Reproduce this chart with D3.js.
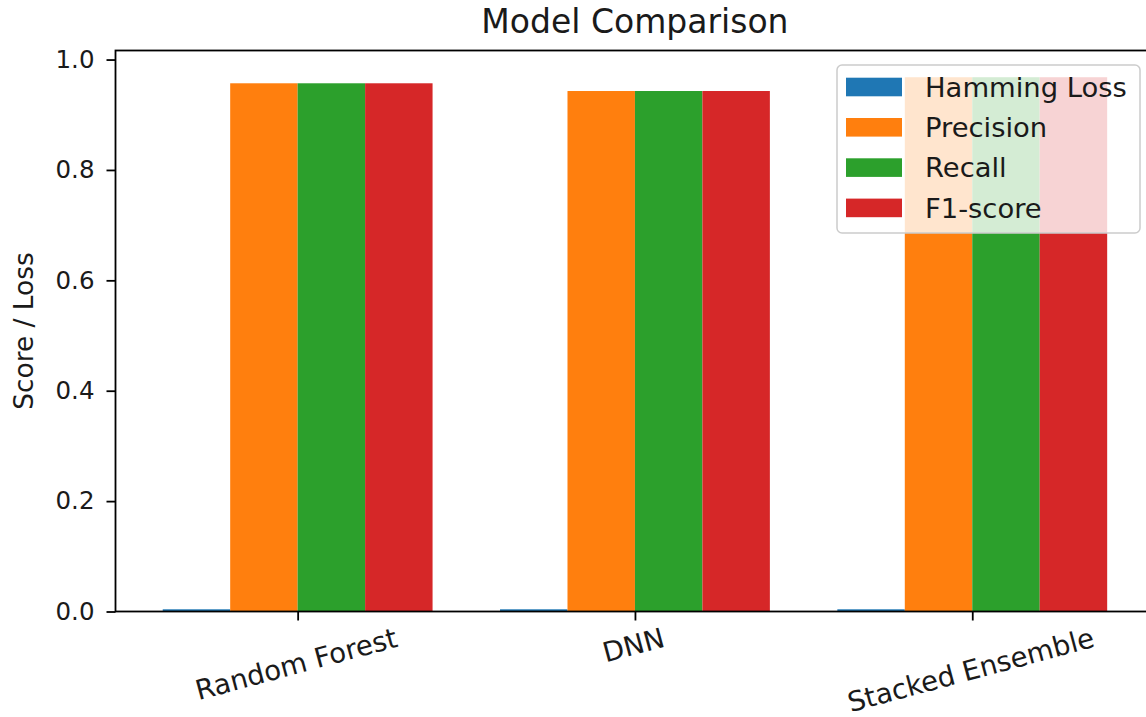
<!DOCTYPE html>
<html><head><meta charset="utf-8">
<script src="https://cdn.jsdelivr.net/npm/d3@7"></script>
<style>body{margin:0;background:#fff}svg{display:block}text{font-family:"DejaVu Sans",sans-serif;fill:#1a1a1a}</style>
</head><body><svg id="c" width="1146" height="717"></svg>
<script>
const categories = ["Random Forest", "DNN", "Stacked Ensemble"];
const seriesNames = ["Hamming Loss", "Precision", "Recall", "F1-score"];
const hammingLoss = [0.004, 0.004, 0.004];
const precision = [0.957, 0.943, 0.968];
const recall = [0.957, 0.943, 0.968];
const f1score = [0.957, 0.943, 0.968];
const yTicks = [0.0, 0.2, 0.4, 0.6, 0.8, 1.0];
const colors = ["#1f77b4", "#ff7f0e", "#2ca02c", "#d62728"];
const series = [hammingLoss, precision, recall, f1score];

const svg = d3.select("#c");
const L = 115.5, R = 1154.4, T = 50.5, B = 611.5;
const barW = 0.2;
const x = d3.scaleLinear().domain([-0.54, 2.54]).range([L, R]);
const yMax = d3.max(series.flat()) * 1.05;
const y = d3.scaleLinear().domain([0, yMax]).range([B, T]);

// bars
series.forEach((vals, j) => {
  svg.append("g").selectAll("rect").data(vals).join("rect")
    .attr("x", (d, i) => x(i + (j - 1.5) * barW - barW / 2))
    .attr("width", (d, i) => x(barW) - x(0))
    .attr("y", d => y(d))
    .attr("height", d => y(0) - y(d))
    .attr("fill", colors[j]);
});

// spines
const sp = svg.append("g").attr("stroke", "#000").attr("stroke-width", 1.8).attr("fill", "none");
sp.append("rect").attr("x", L).attr("y", T).attr("width", R - L).attr("height", B - T);

// y axis
const ya = svg.append("g").attr("transform", `translate(${L},0)`)
  .call(d3.axisLeft(y).tickValues(yTicks).tickFormat(d3.format(".1f")).tickSize(9).tickPadding(12).tickSizeOuter(0));
ya.select(".domain").remove();
ya.selectAll(".tick line").attr("stroke", "#000").attr("stroke-width", 1.8);
ya.selectAll(".tick text").style("font-family", "DejaVu Sans").style("font-size", "24.5px").attr("fill", "#1a1a1a");

// x axis
const xa = svg.append("g").attr("transform", `translate(0,${B})`)
  .call(d3.axisBottom(x).tickValues([0, 1, 2]).tickFormat(i => categories[i]).tickSize(9).tickSizeOuter(0));
xa.select(".domain").remove();
xa.selectAll(".tick line").attr("stroke", "#000").attr("stroke-width", 1.8);
const ang = 15 * Math.PI / 180;
const xfs = 27.6;
xa.selectAll(".tick text").each(function () {
  const t = d3.select(this);
  t.style("font-family", "DejaVu Sans").style("font-size", xfs + "px").attr("fill", "#1a1a1a")
    .attr("text-anchor", "middle").attr("dy", null).attr("y", 0);
  const w = this.getComputedTextLength();
  const h = xfs * 1.0;
  const bh = w * Math.sin(ang) + h * Math.cos(ang);
  const cy = 12 + bh / 2;
  t.attr("transform", `translate(-2,${cy}) rotate(-15)`).attr("dy", "0.36em");
});

// y label
svg.append("text").attr("transform", `translate(33,${(T + B) / 2}) rotate(-90)`)
  .attr("text-anchor", "middle").style("font-size", "26.4px").text("Score / Loss");

// title
svg.append("text").attr("x", (L + R) / 2).attr("y", 33).attr("text-anchor", "middle")
  .style("font-size", "33px").text("Model Comparison");

// legend
const lg = svg.append("g");
lg.append("rect").attr("x", 837).attr("y", 65).attr("width", 303).attr("height", 168)
  .attr("rx", 5).attr("fill", "#fff").attr("fill-opacity", 0.8).attr("stroke", "#ccc").attr("stroke-width", 1.5);
seriesNames.forEach((name, j) => {
  const cy = 87 + j * 40.3;
  lg.append("rect").attr("x", 846).attr("y", cy - 9.3).attr("width", 56).attr("height", 18.6).attr("fill", colors[j]);
  lg.append("text").attr("x", 925).attr("y", cy).attr("dy", "0.36em").style("font-size", "27.4px").text(name);
});
</script></body></html>
